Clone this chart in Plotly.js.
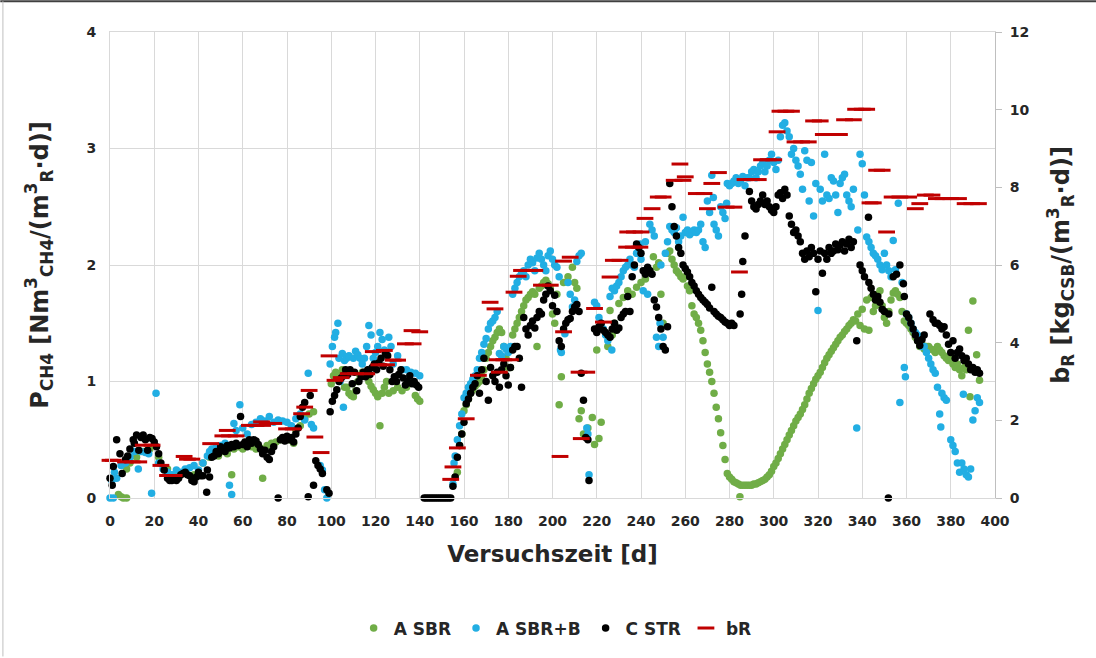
<!DOCTYPE html>
<html>
<head>
<meta charset="utf-8">
<script src="https://cdn.plot.ly/plotly-3.0.1.min.js"></script>
<style>
  html, body { margin: 0; padding: 0; background: #ffffff; }
  #chart { width: 1096px; height: 658px; }
</style>
</head>
<body>
<div id="chart"></div>
<script>
// ---- data: [day, value] pairs ----
const seriesNames = ["A SBR", "A SBR+B", "C STR", "bR"];
const xTicks = [0,20,40,60,80,100,120,140,160,180,200,220,240,260,280,300,320,340,360,380,400];

// A SBR  (P_CH4, left axis)
const asbr = [
 [3.8,0.03],[5,0.01],[6,0.0],[7.5,0.0],[7.5,0.25],[9,0.3],[12,0.35],[15,0.4],[18,0.42],[22,0.35],[26,0.25],[30,0.2],
 [34,0.22],[38,0.2],[42,0.3],[45,0.35],[47,0.38],[49,0.36],[51,0.4],[53,0.38],[55,0.2],[56,0.42],[58,0.44],[60,0.42],
 [62,0.45],[64,0.44],[66,0.42],[68,0.43],[69,0.17],[71,0.45],[73,0.47],[75,0.48],[77,0.5],[79,0.52],[81,0.5],[83,0.47],
 [84,0.58],[86,0.62],[88,0.68],[90,0.72],[92,0.74],[100,0.98],[101,1.05],[102,1.08],[103,1.06],[104,1.02],[105,1.1],
 [106,0.95],[107,0.95],[108,0.9],[109,0.88],[110,0.87],[111,0.92],[112,1.0],[113,1.05],[114,1.08],[115,1.06],[116,1.05],
 [117,1.0],[118,0.96],[119,0.93],[120,0.9],[121,0.87],[122,0.62],[123,0.9],[124,0.95],[125,1.0],[126,0.9],[128,0.92],
 [130,0.95],[132,0.92],[134,0.95],[136,1.0],[138,0.88],[139,0.85],[140,0.83],
 [156,0.18],[157,0.22],[158,0.45],[159,0.55],[160,0.75],[161,0.8],[162,0.85],[163,0.9],[164,0.93],[165,0.96],[166,0.98],
 [167,1.0],[168,1.05],[169,1.1],[170,1.2],[171,1.25],[172,1.3],[173,1.35],[174,1.38],[175,1.42],[176,1.45],[177,1.42],
 [178,1.3],[179,1.2],[180,1.12],[181,1.12],[182,1.4],[183,1.45],[184,1.5],[185,1.55],[186,1.6],[187,1.65],[188,1.7],
 [189,1.72],[190,1.75],[191,1.77],[192,1.75],[193,1.3],[194,1.8],[195,1.82],[196,1.85],[197,1.87],[198,1.84],[199,1.8],
 [200,1.58],[201,1.5],[202,1.75],[203,0.8],[204,1.04],[205,1.85],[207,1.9],[209,1.98],[210,1.85],[211,1.8],[212,0.68],
 [213,0.75],[214,0.55],[216,0.6],[218,0.69],[219,0.46],[220,1.27],[221,0.51],[222,0.65],[225,1.3],[226,1.61],[227,1.4],
 [228,1.5],[230,1.67],[232,1.72],[234,1.78],[236,1.75],[238,1.81],[240,1.85],[242,1.88],[244,1.95],[245.6,2.07],
 [247,1.98],[248,2.02],[249,1.75],[250,1.5],[252,2.1],[253,2.12],[254,2.05],[255,2.0],[256,1.95],[257,1.93],[258,1.9],
 [259,1.88],[260,1.9],[261,1.82],[262,1.78],[263,1.65],[264,1.58],[265,1.55],[266,1.5],[267,1.44],[268,1.35],[269,1.25],
 [270,1.15],[271,1.08],[272,1.0],[273,0.9],[274,0.78],[275,0.68],[276,0.56],[277,0.45],[278,0.33],[279,0.21],[280,0.18],
 [281,0.16],[282,0.14],[283,0.13],[284,0.12],[284.7,0.01],[285,0.11],[286,0.11],[287,0.11],[288,0.11],[289,0.11],
 [290,0.11],[291,0.12],[292,0.12],[293,0.13],[294,0.14],[295,0.15],[296,0.16],[297,0.18],[298,0.2],[299,0.23],[300,0.27],
 [301,0.3],[302,0.34],[303,0.38],[304,0.42],[305,0.46],[306,0.5],[307,0.54],[308,0.58],[309,0.62],[310,0.66],[311,0.69],
 [312,0.72],[313,0.76],[314,0.8],[315,0.85],[316,0.9],[317,0.94],[318,0.98],[319,1.02],[320,1.05],[321,1.08],[322,1.12],
 [323,1.16],[324,1.2],[325,1.23],[326,1.26],[327,1.29],[328,1.32],[329,1.35],[330,1.38],[331,1.4],[332,1.43],[333,1.45],
 [334,1.48],[335,1.5],[336,1.53],[337,1.52],[338,1.58],[339,1.48],[340,1.62],[341,1.45],[342,1.7],[343,1.44],[344,1.72],
 [345,1.6],[346,1.65],[347,1.75],[348,1.78],[349,1.65],[350,1.55],[351,1.5],[352,1.6],[353,1.7],[354,1.76],[355,1.78],
 [356,1.75],[357,1.72],[358,1.6],[359,1.52],[360,1.5],[361,1.48],[362,1.45],[363,1.42],[364,1.38],[365,1.35],[366,1.3],
 [367,1.32],[368,1.28],[369,1.3],[370,1.3],[371,1.28],[372,1.27],[373,1.25],[374,1.3],[375,1.27],[376,1.25],[377,1.22],
 [378,1.2],[379,1.18],[380,1.21],[381,1.15],[382,1.12],[383,1.15],[384,1.1],[385,1.05],[386,1.12],[387,1.1],[388,1.44],
 [388.7,0.87],[390,1.69],[391,1.1],[391.7,1.23],[393,1.01]
];

// A SBR+B  (P_CH4, left axis)
const asbrB = [
 [0,0.0],[0.8,0.15],[1.5,0.0],[2,0.22],[3,0.17],[5,0.28],[7,0.3],[9,0.35],[11,0.4],[12.8,0.25],[14,0.4],[16,0.39],
 [17.5,0.38],[18.8,0.04],[20.8,0.9],[22,0.3],[24,0.25],[26,0.22],[28,0.2],[30,0.24],[32,0.22],[34,0.25],[36,0.26],
 [38,0.28],[40,0.24],[42,0.3],[44,0.36],[45,0.4],[46,0.42],[48,0.44],[50,0.45],[52,0.47],[54,0.11],[55,0.03],[56,0.64],
 [57,0.58],[58.7,0.8],[60,0.6],[62,0.55],[64,0.63],[66,0.65],[68,0.68],[70,0.66],[72,0.7],[74,0.65],[76,0.67],[78,0.66],
 [80,0.65],[82,0.62],[84,0.68],[86,0.72],[88,0.67],[89.6,1.07],[91,0.63],[92,0.6],[95,0.28],[96,0.24],[97,0.07],[98,0.0],
 [99.5,1.15],[100.5,1.3],[101.5,1.38],[102,1.42],[103,1.5],[103.5,1.2],[104,1.0],[105,1.24],[105.5,0.78],[106,1.18],
 [107,1.2],[108,1.22],[110,1.2],[111,1.26],[112,1.23],[113,1.2],[114,1.15],[115,1.2],[116,1.3],[117,1.48],[118,1.4],
 [119,1.2],[120,1.25],[121,1.3],[122,1.42],[123,1.36],[124,1.27],[125,1.25],[126,1.38],[127,1.3],[128,1.15],[130,1.22],
 [132,1.1],[134,1.1],[136,1.08],[138,1.07],[140,1.05],
 [155,0.12],[155.5,0.3],[156,0.36],[157,0.5],[158,0.62],[159,0.72],[160,0.86],[161,0.9],[162,0.95],[163,0.98],[164,1.02],
 [165,1.05],[166,1.1],[167,1.2],[168,1.25],[169,1.32],[170,1.37],[171,1.45],[172,1.5],[173,1.52],[174,1.55],[175,1.6],
 [176,1.24],[177,1.22],[178,1.3],[179,1.28],[180,1.25],[181,1.3],[182,1.75],[183,1.8],[184,1.85],[185,1.9],[186,1.93],
 [187,1.95],[188,1.9],[189,2.0],[190,2.05],[191,2.02],[192,1.95],[193,2.06],[194,2.1],[195,2.05],[196,2.0],[197,1.95],
 [198,2.08],[199,2.12],[200,2.05],[201,2.0],[202,1.98],[203,1.9],[203.6,1.27],[204,1.25],[205.6,1.41],[207,1.85],
 [208,1.75],[209,1.64],[210,1.7],[211,2.03],[212,2.08],[213,2.1],[215.5,0.6],[216,0.55],[216.5,0.2],[219,1.68],[220,1.65],
 [221,1.55],[222,1.5],[223,1.45],[224,1.4],[225,1.35],[226.8,1.27],[226,1.73],[227,1.8],[228,1.78],[229,1.82],[230,1.85],
 [231,1.9],[232,1.95],[233,1.98],[234,2.0],[235,2.05],[236,2.0],[237,1.98],[238,2.1],[239,2.15],[239.6,2.18],[240,2.05],
 [241,1.78],[242,2.2],[243,1.75],[244,2.35],[245,2.3],[246,2.25],[247,1.38],[248,1.3],[248.6,1.5],[249,2.0],[250,1.38],
 [251,2.1],[252,2.2],[253,2.33],[254,2.3],[255,2.28],[256,2.32],[257,2.2],[258,2.25],[259,2.41],[260,2.28],[261,2.3],
 [262,2.26],[263,2.28],[264,2.3],[265,2.28],[266,2.3],[267,2.35],[268,2.2],[269,2.15],[270,2.55],[271,2.45],[272,2.77],
 [272.7,2.58],[273,2.35],[274,2.3],[275,2.25],[276,2.5],[277,2.45],[278,2.4],[278.7,2.53],[279,2.7],[280,2.68],[281,2.7],
 [282,2.72],[283,2.75],[284,2.7],[285,2.72],[286,2.76],[287,2.68],[288,2.75],[289,2.75],[290,2.8],[291,2.82],[292,2.75],
 [293,2.8],[294,2.85],[295,2.88],[296,2.8],[297,2.85],[298,2.9],[299,2.95],[300,2.88],[301,2.82],[302,2.9],[303,3.1],
 [304,3.2],[305,3.22],[306,3.15],[307,3.1],[308,2.95],[309,3.0],[310,2.9],[311,2.85],[312,2.78],[313,2.65],[314,2.98],
 [315,2.9],[316,2.55],[317,2.88],[318,2.42],[319,2.7],[320,1.61],[321,2.65],[322,2.55],[323,2.95],[324,2.6],[325,2.57],
 [326,2.75],[327,2.72],[328,2.6],[329,2.45],[330,2.7],[331,2.75],[332,2.78],[333,2.6],[334,2.55],[335,2.5],[336,2.65],
 [337.5,0.6],[338,2.3],[339,2.95],[340,2.87],[341,2.6],[342,2.24],[343,2.2],[344,2.15],[345,2.1],[346,2.08],[347,2.05],
 [348,2.0],[349,1.96],[350,2.1],[351,2.0],[352,1.95],[353,1.9],[354,2.21],[355,1.96],[356.3,2.53],[357,0.82],[358,1.85],
 [359,1.12],[359.5,1.04],[360,1.58],[361,1.55],[362,1.5],[363,1.45],[364,1.42],[365,1.4],[366,1.35],[367,1.3],[368,1.3],
 [369,1.25],[370,1.2],[371,1.15],[372,1.1],[373,1.07],[374,0.95],[375,0.72],[375.5,0.61],[376,0.9],[377,0.86],[378,0.84],
 [380,0.5],[381,0.45],[382,0.4],[383,0.3],[384,0.22],[385,0.3],[385.7,0.89],[386,0.25],[387,0.2],[388,0.18],[389,0.25],
 [390,0.67],[391,0.75],[392,0.86],[393,0.82]
];

// C STR  (P_CH4, left axis)
const cstr = [
 [0,0.17],[1,0.11],[1.5,0.27],[3,0.5],[4.5,0.38],[5.5,0.21],[7,0.33],[8,0.36],[9,0.42],[10.5,0.5],[11,0.47],[12,0.54],
 [13,0.41],[14,0.52],[15,0.54],[16,0.5],[17,0.41],[18,0.52],[19,0.51],[20,0.48],[21,0.44],[22,0.38],[23,0.3],[24.5,0.24],
 [26,0.17],[27,0.15],[28,0.15],[29,0.16],[30,0.15],[31,0.17],[32,0.2],[33,0.21],[34,0.22],[35,0.2],[36,0.19],[37,0.15],
 [38,0.14],[39,0.18],[40,0.22],[41,0.19],[42,0.19],[43.7,0.05],[44,0.24],[45,0.18],[46,0.35],[47,0.36],[48,0.4],[49,0.38],
 [50,0.44],[51,0.42],[52,0.4],[53,0.45],[54,0.43],[55,0.46],[56,0.44],[57,0.47],[58,0.45],[59,0.7],[60,0.46],[61,0.48],
 [62,0.44],[63,0.5],[64,0.47],[65,0.5],[66,0.49],[67,0.46],[68,0.42],[69,0.38],[70,0.41],[71,0.35],[72,0.33],[73,0.4],
 [74,0.44],[76,0.0],[77,0.5],[78,0.52],[79,0.49],[80,0.53],[81,0.5],[82,0.52],[83,0.48],[84,0.55],[85,0.6],[86,0.7],
 [87,0.78],[88,0.82],[89.6,0.01],[90.5,0.88],[92,0.11],[93,0.32],[94,0.28],[95,0.25],[96,0.21],[98,0.07],[99,0.04],
 [99.5,0.74],[100.5,0.83],[101.5,0.88],[102.5,0.93],[103.5,1.0],[104.5,1.03],[105.5,1.05],[106.5,1.1],[107.5,1.06],
 [108.5,1.1],[109.5,0.98],[110.5,1.08],[111.5,0.92],[112.5,1.0],[113.5,1.04],[114.5,1.08],[115.5,1.04],[116.5,1.1],
 [117.5,1.06],[118.5,1.12],[119.5,1.15],[120.5,1.1],[121.5,1.16],[122.5,1.2],[123.5,1.13],[124.5,1.24],[125.5,1.22],
 [126.5,1.1],[127.5,1.0],[128.5,1.04],[129.5,1.0],[130.5,1.06],[131.5,1.1],[132.5,1.03],[133.5,0.97],[134.5,1.0],
 [135.5,1.05],[136.5,0.98],[137.5,1.0],[138.5,0.97],[139.5,0.95],
 [142,0],[143,0],[144,0],[145,0],[146,0],[147,0],[148,0],[149,0],[150,0],[151,0],[152,0],[153,0],[154,0],
 [155,0.1],[156,0.18],[157,0.35],[158,0.45],[159,0.55],[160,0.65],[161,0.81],[162,0.85],[163,0.9],[164,0.95],[165,0.98],
 [166,1.05],[167,0.9],[168,1.1],[169,1.2],[170,1.0],[171,0.84],[172,1.12],[173,1.05],[174,1.0],[175,1.08],[176,0.95],
 [177,1.1],[178,1.15],[179,1.05],[180,0.97],[181,1.12],[182,1.27],[183,1.3],[184,1.3],[185,1.2],[186,0.95],[187,1.55],
 [188,1.45],[189,1.4],[190,1.48],[191,1.52],[192,1.46],[193,1.55],[194,1.6],[195,1.58],[196,1.7],[197,1.75],[198,1.82],
 [199,1.78],[200,1.65],[201,1.74],[202,1.6],[203,1.35],[204,1.3],[205,1.45],[206,1.5],[207,1.53],[208,1.54],[209,1.6],
 [210,1.64],[211,1.66],[212,1.6],[213,1.07],[214,0.84],[215,0.52],[216,0.5],[216.5,0.15],[219,1.45],[220,1.42],[221,1.47],
 [222,1.5],[223,1.44],[224,1.42],[225,1.4],[226,1.38],[227,1.45],[228,1.5],[229,1.44],[230,1.46],[231,1.55],[232,1.58],
 [233,1.6],[234,1.73],[235,1.6],[236,1.9],[237,2.0],[238,2.18],[239,2.15],[240,2.1],[241,1.95],[242,1.92],[243,1.98],
 [244,1.95],[245,1.92],[246,1.7],[247,1.64],[248,1.55],[249,1.45],[250,1.3],[251,1.27],[252,1.47],[253,2.7],[254,2.5],
 [255,2.33],[256,2.25],[257,2.15],[258,2.1],[259,2.0],[260,1.97],[261,1.94],[262,1.9],[263,1.85],[264,1.82],[265,1.78],
 [266,1.75],[267,1.72],[268,1.7],[269,1.68],[270,1.66],[271,1.63],[272,1.81],[273,1.6],[274,1.58],[275,1.56],[276,1.55],
 [277,1.53],[278,1.51],[279,1.5],[280,1.48],[281,1.5],[282,1.48],[284.8,1.58],[285.5,1.75],[286,2.03],[287,2.25],
 [289,2.63],[290,2.55],[291,2.5],[292,2.48],[293,2.52],[294,2.55],[295,2.6],[296,2.52],[297,2.55],[298,2.5],[299,2.47],
 [300,2.45],[301,2.5],[302,2.6],[303,2.62],[304,2.57],[305,2.65],[306,2.6],[307,2.42],[308,2.35],[309,2.28],[310,2.3],
 [311,2.25],[312,2.2],[313,2.1],[314,2.05],[315,2.12],[316,2.07],[317,2.15],[318,2.1],[319,1.77],[320,2.05],[321,2.12],
 [322,1.93],[323,2.1],[324,2.05],[325,2.15],[326,2.1],[327,2.12],[328,2.18],[329,2.13],[330,2.17],[331,2.2],[332,2.12],
 [333,2.18],[334,2.22],[335,2.15],[336,2.2],[337.5,1.35],[339,2.0],[340,1.95],[341,1.9],[342.8,2.41],[343,1.85],[344,1.8],
 [345,1.75],[346,1.7],[347,1.73],[348,1.68],[349,1.62],[350,1.6],[351.8,0.0],[352,1.58],[354,1.9],[355.5,1.92],[357,2.0],
 [358.6,1.84],[359,1.73],[360,1.58],[361,1.55],[362,1.5],[363,1.45],[364,1.4],[365,1.35],[366,1.31],[367,1.36],[368,1.4],
 [370.6,1.58],[372,1.53],[373,1.5],[374,1.5],[375,1.48],[376,1.45],[377,1.47],[378,1.4],[379,1.32],[380,1.25],[381,1.35],
 [382,1.2],[383,1.25],[384,1.28],[385,1.22],[386,1.18],[387,1.2],[388,1.15],[389,1.1],[390,1.12],[391,1.08],[392,1.1],
 [393,1.07]
];

// bR  (right axis)
const bR = [
 [0,0.97],[1.5,0.97],[7,0.93],[10,0.93],[13,0.93],[15,1.36],[19,1.36],[23,0.84],[26,0.58],[29,0.58],[33.5,1.07],[35,1.0],
 [37,1.0],[45.5,1.4],[51,1.6],[54,1.6],[57,1.6],[53,1.74],[63,1.87],[66,1.87],[69,1.87],[68.5,1.96],[71,1.92],[74,1.92],
 [79.8,1.78],[82.8,1.78],[86.6,2.17],[88,2.34],[90,2.77],[92.6,1.57],[95.4,1.17],[99,3.66],[101.7,3.03],[104.5,3.1],
 [107.7,3.2],[111,3.2],[116,3.2],[119,3.77],[121.5,3.43],[124,3.8],[125,3.43],[128,3.55],[130,3.55],[133.5,3.97],
 [137,3.97],[136.5,4.31],[140,4.28],
 [154,0.48],[155,0.8],[157,1.29],[161,2.04],[166.5,3.16],[171.8,5.04],[174,4.87],[175,3.56],[178,3.56],[181,3.56],
 [176,3.24],[182.6,5.3],[184.5,5.71],[186,5.86],[189,5.86],[192,5.86],[195,5.48],[199,5.48],[203.4,1.07],[205,4.28],
 [205,6.1],[208,6.2],[212,3.24],[215.5,3.24],[213,1.53],[219,4.88],[223,4.53],[226,5.69],[227.5,6.12],[230.5,6.12],
 [233.5,6.46],[236.5,6.46],[239.5,6.46],[234,6.85],[237,6.85],[240,6.85],[241.8,7.2],[245,7.45],[247.8,7.75],[250,7.75],
 [255,8.18],[259,8.18],[257.6,8.6],[260,8.27],[265,7.84],[268.5,7.84],[270,7.45],[272,8.1],[275,8.38],[278.5,7.49],
 [282,7.49],[284.5,5.82],[287,8.2],[290,8.2],[293,8.2],[294.5,8.71],[297.5,8.71],[300,8.71],[301.5,9.43],[302.8,9.96],
 [305.5,9.96],[308,9.96],[309.6,9.17],[312.6,9.17],[315.6,9.17],[318,9.71],[321,9.71],[322.4,9.36],[326,9.36],
 [329.7,9.36],[332,9.74],[336,9.74],[337,10.01],[340,10.01],[342,10.01],[343.5,7.6],[345,7.6],[346.5,8.44],[349,8.44],
 [351,6.85],[353.5,7.75],[357,7.75],[361,7.75],[364,7.45],[366,7.58],[368.5,7.8],[371.5,7.8],[373.5,7.71],[376.5,7.71],
 [380,7.71],[383.5,7.71],[386.5,7.58],[389.5,7.58],[392.5,7.58]
];

// ---- styling ----
const FONT = "'DejaVu Sans', Verdana, sans-serif";
const TXT = "#262626";
const GRID = "#d9d9d9";

function dots(pts, name, color) {
  return {
    type: "scatter", mode: "markers", name: name,
    x: pts.map(p => p[0]), y: pts.map(p => p[1]),
    marker: { color: color, size: 7.5, line: { width: 0 } },
    cliponaxis: false, hoverinfo: "x+y"
  };
}

const traces = [
  dots(asbr, seriesNames[0], "#70ad47"),
  dots(asbrB, seriesNames[1], "#22aee3"),
  dots(cstr, seriesNames[2], "#000000"),
  {
    type: "scatter", mode: "markers", name: seriesNames[3], yaxis: "y2",
    x: bR.map(p => p[0]), y: bR.map(p => p[1]),
    marker: { symbol: "line-ew", size: 12, color: "#c00000", line: { color: "#c00000", width: 3 } },
    cliponaxis: false
  }
];

const tickFont = { family: FONT, size: 14, color: TXT, weight: "bold" };

const layout = {
  width: 1096, height: 658,
  margin: { l: 110, r: 101, t: 32, b: 160, pad: 0 },
  paper_bgcolor: "#ffffff", plot_bgcolor: "#ffffff",
  font: { family: FONT, color: TXT, size: 14 },
  showlegend: true,
  legend: {
    orientation: "h", x: 0.503, xanchor: "center", y: -0.28, yanchor: "middle",
    font: { family: FONT, size: 17, color: TXT, weight: "bold" },
    itemwidth: 30, traceorder: "normal"
  },
  xaxis: {
    range: [0, 400], tickvals: xTicks, ticktext: xTicks.map(String),
    showgrid: true, gridcolor: GRID, gridwidth: 1,
    showline: true, linecolor: GRID, linewidth: 1, mirror: true,
    zeroline: false, ticks: "", ticklen: 0, ticklabelstandoff: 10,
    tickfont: tickFont,
    title: { text: "Versuchszeit [d]", font: { family: FONT, size: 23, color: TXT, weight: "bold" }, standoff: 18 }
  },
  yaxis: {
    range: [0, 4], tickvals: [0, 1, 2, 3, 4],
    showgrid: true, gridcolor: GRID, gridwidth: 1,
    showline: true, linecolor: GRID, linewidth: 1,
    zeroline: false, ticks: "", ticklabelstandoff: 10,
    tickfont: tickFont,
    title: { text: "P<sub>CH4</sub> [Nm<sup>3</sup><sub>CH4</sub>/(m<sup>3</sup><sub>R</sub>·d)]",
             font: { family: FONT, size: 24, color: TXT, weight: "bold" }, standoff: 31 }
  },
  yaxis2: {
    overlaying: "y", side: "right", range: [0, 12], tickvals: [0, 2, 4, 6, 8, 10, 12],
    showgrid: false, zeroline: false,
    showline: true, linecolor: "#bfbfbf", linewidth: 1,
    ticks: "outside", ticklen: 6, tickcolor: "#bfbfbf", ticklabelstandoff: 5,
    tickfont: tickFont,
    title: { text: "b<sub>R</sub> [kg<sub>CSB</sub>/(m<sup>3</sup><sub>R</sub>·d)]",
             font: { family: FONT, size: 24, color: TXT, weight: "bold" }, standoff: 23 }
  },
  shapes: [
    { type: "line", xref: "paper", yref: "paper", x0: -0.124, x1: 1.12, y0: 1.066, y1: 1.066,
      line: { color: "#404040", width: 2 } },
    { type: "line", xref: "paper", yref: "paper", x0: -0.121, x1: -0.121, y0: -0.34, y1: 1.066,
      line: { color: "#bfbfbf", width: 1 } }
  ]
};

Plotly.newPlot("chart", traces, layout, { displayModeBar: false, staticPlot: true });
</script>
</body>
</html>
